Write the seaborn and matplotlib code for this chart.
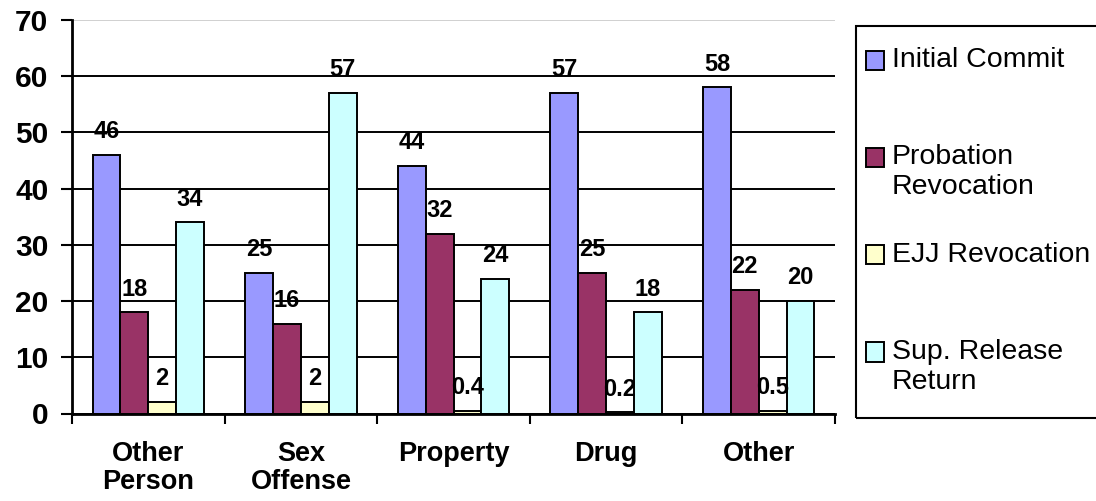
import matplotlib
matplotlib.use("Agg")
import matplotlib.pyplot as plt
import matplotlib.patches as mpatches
from matplotlib.legend_handler import HandlerPatch
from matplotlib.ticker import FixedLocator, NullFormatter
import numpy as np
import pandas as pd
import seaborn as sns

# Admissions by offense type (%), per admission type
categories = ["Other\nPerson", "Sex\nOffense", "Property", "Drug", "Other"]
series_names = ["Initial Commit", "Probation Revocation", "EJJ Revocation", "Sup. Release Return"]
legend_labels = ["Initial Commit\n", "Probation\nRevocation", "EJJ Revocation\n", "Sup. Release\nReturn"]
initial_commit = [46, 25, 44, 57, 58]
probation_revocation = [18, 16, 32, 25, 22]
ejj_revocation = [2, 2, 0.4, 0.2, 0.5]
sup_release_return = [34, 57, 24, 18, 20]
colors = ["#9999FF", "#993366", "#FFFFCC", "#CCFFFF"]
y_ticks = [0, 10, 20, 30, 40, 50, 60, 70]

values = [initial_commit, probation_revocation, ejj_revocation, sup_release_return]
df = pd.DataFrame({
    "offense": [c for _ in series_names for c in categories],
    "type": [s for s in series_names for _ in categories],
    "pct": [v for vals in values for v in vals],
})

sns.set_style("white")
plt.rcParams["font.family"] = ["Liberation Sans", "DejaVu Sans"]
plt.rcParams.update({"text.color": "black", "xtick.color": "black",
                     "ytick.color": "black", "axes.labelcolor": "black"})

W, H = 1096, 501
fig = plt.figure(figsize=(W / 100, H / 100), dpi=100)
ax = fig.add_axes([72 / W, 87.5 / H, 763 / W, 393.5 / H])

sns.barplot(data=df, x="offense", y="pct", hue="type", order=categories,
            hue_order=series_names, palette=colors, edgecolor="black",
            linewidth=1.4, width=0.73, saturation=1, legend=False, ax=ax)

# value labels above each bar
for cont in ax.containers:
    ax.bar_label(cont, labels=[f"{v:g}" for v in cont.datavalues], padding=8.5,
                 fontsize=17, fontweight="bold", color="black")

ax.set_ylim(0, 70)
ax.set_xlim(-0.5, len(categories) - 0.5)
ax.set_xlabel("")
ax.set_ylabel("")

# horizontal grid
ax.set_yticks(y_ticks)
ax.set_axisbelow(True)
ax.yaxis.grid(True, color="black", linewidth=1.4)
ax.xaxis.grid(False)
gl = ax.yaxis.get_gridlines()
gl[-1].set_color("#c8c8c8")
gl[-1].set_linewidth(1.2)

ax.tick_params(axis="y", direction="out", length=8, width=1.5, pad=9,
               labelsize=21.5, left=True, colors="black")
for t in ax.get_yticklabels():
    t.set_fontweight("bold")

# category labels centred, tick marks on the category boundaries
ax.tick_params(axis="x", which="major", length=0, pad=20, labelsize=19.5,
               colors="black")
ax.xaxis.set_minor_locator(FixedLocator(np.arange(-0.5, len(categories), 1.0)))
ax.xaxis.set_minor_formatter(NullFormatter())
ax.tick_params(axis="x", which="minor", direction="out", length=7, width=1.5,
               bottom=True, colors="black")
for t in ax.get_xticklabels():
    t.set_fontweight("bold")
    t.set_linespacing(1.1)

for side in ["top", "right"]:
    ax.spines[side].set_visible(False)
for side in ["left", "bottom"]:
    ax.spines[side].set_color("black")
    ax.spines[side].set_linewidth(2)


class RaisedPatchHandler(HandlerPatch):
    """Square legend key aligned with the first text line."""
    def __init__(self, lift, **kw):
        super().__init__(**kw)
        self.lift = lift

    def create_artists(self, legend, orig_handle, xdescent, ydescent, width,
                       height, fontsize, trans):
        arts = super().create_artists(legend, orig_handle, xdescent, ydescent,
                                      width, height, fontsize, trans)
        for a in arts:
            a.set_y(a.get_y() + self.lift)
        return arts


# legend frame: a plain black box running off the right edge
frame = mpatches.Rectangle((856 / W, 1 - 418 / H), 260 / W, (418 - 26) / H,
                           transform=fig.transFigure, facecolor="none",
                           edgecolor="black", linewidth=1.5, zorder=5)
fig.patches.append(frame)

leg_fs = 20.5
handles = [mpatches.Patch(facecolor=c, edgecolor="black", linewidth=1.4) for c in colors]
handler = RaisedPatchHandler(lift=0.52 * leg_fs)
leg = ax.legend(handles, legend_labels, loc="upper left",
                bbox_to_anchor=(856 / W, 1 - 37 / H),
                bbox_transform=fig.transFigure, fontsize=leg_fs,
                frameon=False, borderpad=0.35, handlelength=0.62,
                handleheight=0.66, handletextpad=0.28, labelspacing=1.45,
                borderaxespad=0, labelcolor="black",
                handler_map={mpatches.Patch: handler})

fig.savefig("out.png", dpi=100)
